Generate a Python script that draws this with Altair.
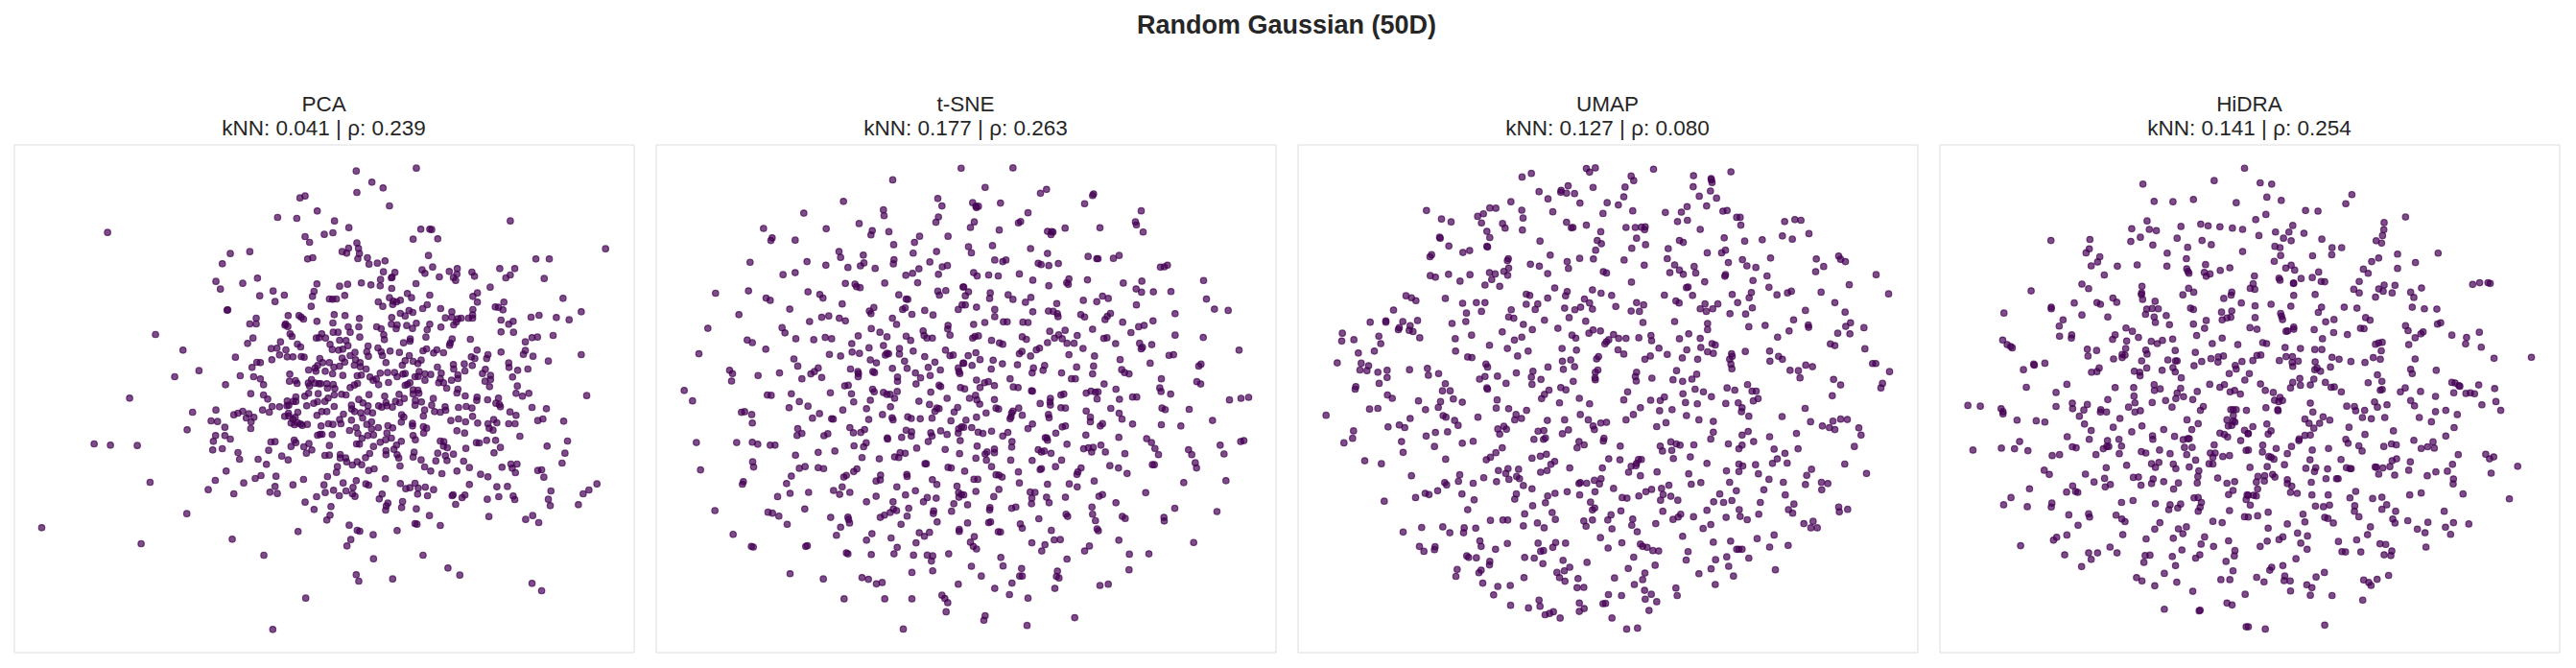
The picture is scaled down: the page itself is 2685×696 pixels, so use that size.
import altair as alt
import pandas as pd

suptitle = 'Random Gaussian (50D)'
methods = ['PCA', 't-SNE', 'UMAP', 'HiDRA']
knn = ['0.041', '0.177', '0.127', '0.141']
rho = ['0.239', '0.263', '0.080', '0.254']

# points, one list per part of a panel
pca_tl = [(927,181),(911,187),(965,228),(841,248),(901,251),(309,295),(985,300),(927,308),(941,326),(754,355),(693,361),(668,393),(935,378),(951,374),(648,448),(732,454),(778,438),(964,456),(662,472),(827,478),(955,479),(785,493),(862,491),(950,495),(833,511),(946,526),(683,538),(685,537),(874,555),(908,555),(915,560),(922,566),(964,573),(774,563),(754,581),(774,581),(866,581),(864,585),(873,589),(459,614),(880,612),(886,620),(979,614),(764,625),(962,625),(971,624),(747,642),(850,637),(903,644),(913,653),(545,663),(821,658),(839,657),(867,662),(847,678),(709,685),(871,684),(889,684),(915,683),(924,685),(973,689),(776,701),(787,702),(823,693),(981,702),(966,711),(761,717),(958,719),(595,727),(938,725),(961,729),(987,729),(519,746),(724,743),(766,746),(879,738),(787,753),(878,760),(897,758),(902,767),(947,755),(937,766),(958,766),(970,768),(978,768),(678,771),(797,771),(941,775)]
pca_bl = [(378,18),(757,4),(797,8),(810,21),(968,4),(938,3),(926,12),(898,14),(871,27),(898,28),(890,28),(985,18),(986,30),(966,29),(954,34),(824,44),(847,45),(870,42),(876,40),(932,42),(794,55),(648,55),(575,62),(815,62),(704,70),(717,65),(732,59),(751,67),(743,80),(767,78),(758,92),(875,65),(863,75),(876,74),(904,62),(979,59),(964,72),(896,78),(889,84),(633,89),(653,91),(883,96),(894,101),(904,95),(913,99),(918,103),(934,100),(676,109),(558,117),(757,113),(976,106),(647,135),(676,135),(693,146),(640,153),(966,134),(974,131),(983,137),(820,155),(833,154),(893,149),(898,157),(267,161),(318,165),(402,166),(939,160),(883,169),(923,170),(638,180),(668,176),(813,181),(948,180),(717,188),(931,190),(854,199),(987,196),(722,209),(780,209),(874,211),(806,225),(680,246),(789,260),(771,269),(836,262),(922,272),(646,275),(735,283),(442,281),(889,289),(833,294),(984,289),(624,304),(704,317),(817,312),(840,316),(987,313),(963,326),(927,343),(955,366),(557,379),(990,398),(103,423),(905,435),(699,459),(414,473),(798,509),(929,643),(826,741)]
pca_tr = [(112,103),(300,94),(161,138),(196,156),(114,170),(216,212),(44,259),(594,259),(89,280),(314,285),(342,285),(348,286),(39,296),(12,301),(290,316),(367,315),(114,328),(119,345),(88,344),(68,355),(82,360),(122,361),(117,377),(147,374),(338,367),(892,346),(674,378),(716,378),(202,384),(178,391),(152,394),(351,403),(318,412),(327,423),(403,417),(428,408),(427,425),(416,436),(423,445),(561,408),(608,408),(594,428),(580,437),(474,419),(482,432),(197,418),(233,420),(224,435),(222,437),(372,434),(188,442),(700,439),(128,453),(85,457),(60,463),(158,459),(187,462),(299,455),(531,466),(223,470),(272,486),(285,499),(342,491),(491,484),(477,495),(76,492),(28,503),(38,504),(50,503),(216,499),(759,501),(181,512),(195,526),(228,510),(238,512),(226,520),(250,507),(334,521),(320,533),(376,533),(491,513),(574,513),(547,528),(557,529),(571,537),(477,536),(816,543),(411,543),(250,548),(277,539),(289,545),(265,556),(43,552),(77,555),(122,564),(223,561),(391,562),(411,560),(430,565),(440,563),(463,563),(476,563),(476,553),(684,554),(659,560),(738,561),(778,568),(565,569),(39,578),(222,582),(240,584),(270,586),(300,579),(288,595),(342,582),(334,599),(377,591),(425,575),(417,584),(603,573),(589,582),(87,590),(120,590),(176,590),(190,596),(237,596),(93,607),(40,607),(55,607),(565,606),(604,607),(198,615),(123,622),(200,630),(330,622),(281,628),(280,635),(4,612),(16,625),(728,617),(679,622),(662,624),(469,629),(412,628),(406,641),(404,648),(260,640),(641,637),(30,645),(60,632),(80,633),(149,650),(86,649),(180,656),(145,668),(218,666),(37,661),(57,663),(70,660),(108,670),(150,682),(190,668),(194,680),(247,670),(278,680),(321,665),(332,659),(354,672),(364,662),(385,671),(490,663),(565,669),(641,664),(635,676),(665,682),(816,677),(93,680),(68,688),(205,702),(265,696),(290,698),(315,694),(472,684),(483,689),(520,689),(524,677),(589,703),(713,697),(110,693),(28,702),(7,702),(42,716),(60,713),(76,700),(106,710),(124,702),(125,715),(256,710),(305,705),(366,716),(416,708),(417,722),(450,706),(475,711),(452,728),(590,717),(617,726),(649,722),(143,722),(15,729),(38,737),(70,742),(115,743),(128,741),(187,735),(210,733),(232,733),(240,746),(258,738),(265,736),(309,730),(327,737),(345,739),(378,735),(516,723),(507,736),(532,742),(430,740),(155,747),(165,757),(175,753),(296,746),(306,745),(327,757),(375,752),(370,765),(385,765),(410,757),(430,752),(532,755),(515,760),(601,747),(182,771),(213,764),(272,770),(265,773),(280,765),(395,782),(116,767),(106,772),(93,780),(40,770),(20,768),(1,768),(22,782),(45,783),(529,777),(616,775),(430,785),(290,787),(305,788)]
pca_br = [(43,8),(66,6),(80,8),(152,7),(201,12),(246,6),(290,5),(308,3),(427,2),(453,11),(612,3),(632,12),(652,3),(833,10),(490,15),(489,25),(523,23),(557,18),(120,22),(14,28),(24,18),(353,19),(262,19),(235,28),(248,32),(297,25),(316,30),(296,40),(133,33),(182,42),(205,32),(192,46),(208,42),(225,46),(97,40),(43,44),(149,42),(348,40),(390,45),(432,47),(456,44),(474,49),(549,34),(560,38),(563,45),(662,47),(707,51),(98,52),(20,60),(4,60),(126,64),(147,60),(107,60),(163,64),(326,55),(357,60),(375,62),(392,56),(593,61),(612,72),(72,68),(60,85),(132,80),(254,70),(261,77),(322,74),(476,75),(408,88),(432,83),(454,92),(492,96),(253,93),(696,83),(680,88),(761,90),(542,85),(552,95),(97,87),(64,98),(160,92),(25,98),(39,100),(2,105),(145,100),(288,97),(288,105),(322,107),(524,98),(589,98),(609,98),(112,110),(181,110),(211,104),(226,111),(332,112),(528,112),(160,114),(91,119),(540,118),(427,120),(451,127),(117,128),(208,127),(323,127),(624,137),(5,131),(37,132),(148,135),(166,133),(130,144),(222,143),(204,148),(290,135),(297,148),(520,150),(548,150),(375,152),(386,154),(488,157),(497,158),(253,153),(187,156),(113,161),(122,162),(28,166),(166,169),(773,152),(709,168),(563,172),(455,175),(238,165),(230,178),(385,168),(397,173),(293,187),(205,182),(367,190),(416,193),(391,198),(543,189),(765,190),(14,197),(28,196),(62,194),(154,191),(141,204),(205,195),(240,195),(245,205),(290,202),(62,205),(79,205),(396,213),(361,214),(315,211),(448,215),(82,217),(115,217),(129,226),(100,227),(756,221),(596,224),(615,224),(249,230),(53,232),(326,233),(466,235),(568,234),(600,237),(50,250),(151,244),(168,239),(345,246),(427,246),(680,244),(692,242),(610,251),(380,254),(501,256),(524,264),(699,265),(22,263),(203,270),(112,276),(71,283),(250,285),(296,284),(142,286),(151,290),(11,289),(102,297),(280,298),(267,301),(306,299),(328,296),(354,304),(466,288),(552,295),(585,294),(865,286),(41,306),(15,313),(80,308),(100,317),(108,325),(59,323),(193,318),(304,318),(335,323),(184,333),(412,323),(415,320),(443,329),(452,321),(522,334),(558,326),(603,324),(608,335),(721,308),(840,305),(822,317),(713,334),(257,341),(211,346),(206,355),(204,368),(254,360),(300,364),(33,357),(423,350),(807,351),(719,354),(30,384),(20,399),(341,385),(527,388),(664,385),(642,397),(683,407),(90,415),(296,410),(302,412),(375,416),(115,431),(123,434),(240,432),(165,445),(95,460),(83,480),(166,520),(321,509),(399,549),(436,571),(112,570),(120,590),(226,583),(662,597),(692,620)]
tsne_l = [(967,78),(753,114),(894,171),(907,194),(599,180),(724,206),(726,224),(896,228),(475,216),(888,244),(648,248),(349,263),(545,264),(689,270),(685,283),(741,273),(926,287),(376,292),(372,300),(448,299),(837,287),(821,306),(756,313),(987,320),(585,334),(590,352),(661,345),(817,339),(890,334),(757,359),(755,372),(663,369),(652,378),(613,383),(698,386),(869,366),(307,367),(485,365),(544,376),(448,399),(410,405),(835,387),(815,401),(794,407),(908,381),(924,377),(896,404),(605,432),(635,434),(640,442),(651,445),(728,431),(831,430),(973,443),(302,455),(488,458),(199,462),(894,456),(919,454),(899,468),(772,467),(978,470),(987,458),(525,466),(535,477),(357,477),(370,484),(795,480),(800,481),(595,495),(431,511),(694,506),(680,517),(685,525),(784,512),(792,507),(853,515),(879,529),(813,527),(958,512),(970,498),(980,498),(272,528),(531,536),(553,532),(586,539),(605,547),(493,549),(752,539),(765,558),(926,561),(925,572),(407,568),(416,584),(175,570),(686,571),(713,582),(848,578),(851,592),(860,600),(877,600),(932,591),(645,593),(735,596),(795,594),(809,607),(298,606),(314,614),(450,602),(506,605),(542,598),(562,602),(625,617),(724,623),(679,630),(774,632),(356,634),(626,643),(649,647),(817,640),(735,647),(740,648),(730,652),(774,649),(918,637),(932,654),(942,652),(988,654),(147,648),(555,650),(590,655),(853,657),(444,664),(683,667),(702,676),(790,671),(885,674),(973,677),(456,686),(621,695),(752,693),(798,693),(864,690),(902,698),(958,692),(520,692),(243,699),(252,709),(399,707),(508,703),(497,710),(644,703),(646,709),(691,703),(696,706),(824,707),(960,703),(963,709),(332,715),(469,725),(531,721),(645,719),(768,720),(870,715),(840,722),(249,732),(768,733),(826,741),(603,747),(614,745),(898,745),(903,749),(690,757),(965,752),(977,756),(695,765),(101,761),(436,771),(558,768),(624,771),(724,767),(735,773),(745,773),(767,764),(872,766),(361,775),(373,776),(127,793),(461,795),(683,791),(631,796),(759,785),(923,785),(990,785),(835,794),(488,809),(429,814),(746,811),(868,804),(671,817),(597,821),(891,815),(898,817),(885,825),(956,813),(945,827),(280,828),(290,826),(312,835),(524,832),(502,846),(562,848),(567,849),(721,835),(751,845),(754,851),(800,842),(811,847),(839,848),(876,846),(678,850),(935,854),(980,851),(314,861),(456,878),(619,875),(630,891),(653,890),(665,881),(795,883),(812,888),(811,901),(872,891),(876,901),(903,885),(923,896),(959,879),(968,873),(958,892),(454,899),(469,893),(538,900),(550,894),(781,905),(736,907),(737,910),(139,921),(265,921),(314,920),(331,926),(370,929),(385,929),(670,922),(632,931),(662,934),(864,918),(964,915),(828,938),(917,942),(572,947),(520,951),(449,960),(776,952),(792,954),(759,965),(772,967),(962,955),(657,967),(711,971),(315,980),(318,996),(854,986),(858,986),(479,995),(461,1000),(520,998),(537,1001),(152,1005),(926,997),(936,999),(976,1009),(641,1002),(631,1010),(436,1024),(608,1022),(600,1027),(715,1021),(797,1019),(798,1025),(714,1036),(701,1039),(877,1035),(891,1050),(286,1041),(283,1049),(421,1047),(595,1057),(766,1057),(954,1055),(568,1068),(490,1074),(432,1077),(619,1074),(587,1080),(393,1087),(824,1069),(793,1082),(701,1086),(959,1075),(968,1081),(960,1089),(861,1090),(889,1092),(671,1103),(754,1103),(849,1103),(944,1109),(984,1111),(478,1125),(803,1123),(755,1125),(765,1130),(745,1136),(197,1130),(363,1135),(377,1138),(397,1147),(881,1131),(880,1139),(937,1132),(727,1144),(714,1151),(798,1147),(559,1151),(613,1150),(615,1157),(618,1168),(892,1165),(983,1168),(423,1172),(779,1172),(590,1181),(836,1198),(868,1197),(852,1209),(961,1188),(961,1194),(254,1203),(577,1206),(688,1201),(671,1221),(748,1214),(826,1229),(990,1227),(311,1240),(317,1242),(481,1240),(486,1238),(767,1243),(608,1260),(613,1263),(686,1265),(757,1263),(818,1267),(861,1267),(878,1269),(928,1263),(874,1285),(990,1302),(878,1315),(813,1320),(432,1324),(536,1340),(657,1336),(677,1341),(702,1355),(720,1351),(958,1356),(907,1390),(916,1400),(925,1413),(601,1401),(728,1401),(813,1401),(920,1441),(786,1494)]
tsne_r = [(154,77),(67,137),(259,143),(240,155),(406,157),(403,162),(378,187),(28,184),(38,195),(46,195),(40,199),(115,185),(555,209),(201,215),(33,243),(21,260),(171,246),(178,242),(537,243),(540,252),(561,274),(111,268),(262,272),(275,273),(273,282),(279,274),(317,262),(426,261),(15,319),(24,338),(90,316),(209,325),(262,340),(389,349),(416,356),(420,356),(486,346),(468,355),(97,360),(122,365),(132,360),(233,370),(242,374),(266,377),(296,371),(637,376),(627,381),(615,382),(31,399),(42,409),(78,406),(108,409),(174,403),(216,422),(329,418),(322,430),(327,435),(387,421),(499,431),(750,423),(557,425),(266,439),(539,449),(556,459),(593,458),(648,457),(0,443),(15,458),(5,470),(83,461),(81,478),(139,467),(154,481),(210,475),(193,490),(291,494),(374,484),(416,488),(434,471),(452,478),(759,480),(540,498),(5,498),(40,505),(97,512),(216,519),(265,517),(280,518),(293,525),(295,534),(784,511),(827,515),(366,528),(378,535),(459,524),(449,533),(442,543),(661,525),(97,534),(31,558),(66,552),(124,550),(136,550),(185,551),(201,552),(497,551),(592,547),(547,565),(564,561),(403,573),(269,579),(317,576),(523,583),(28,600),(35,595),(46,593),(183,596),(196,604),(297,590),(284,600),(308,602),(355,592),(661,591),(749,598),(438,601),(448,599),(87,607),(112,615),(122,619),(262,614),(323,616),(345,616),(475,617),(550,616),(588,620),(559,628),(555,633),(373,632),(861,637),(237,631),(227,636),(182,641),(174,648),(38,645),(14,654),(209,655),(329,651),(409,655),(642,653),(656,651),(489,666),(51,666),(92,668),(0,677),(26,684),(121,679),(168,682),(583,677),(253,684),(353,689),(406,686),(742,680),(735,686),(86,695),(218,692),(248,699),(214,707),(494,697),(503,706),(517,710),(306,707),(403,710),(40,729),(145,725),(337,725),(349,725),(618,725),(65,737),(77,734),(729,734),(741,741),(51,752),(96,746),(3,756),(155,750),(170,752),(439,741),(476,757),(613,753),(617,764),(212,762),(215,763),(37,776),(18,785),(41,790),(50,803),(96,789),(304,775),(313,772),(271,785),(270,796),(271,806),(239,801),(383,769),(398,763),(412,766),(420,765),(417,787),(487,788),(528,781),(541,781),(647,772),(831,790),(867,785),(891,782),(101,815),(109,818),(172,815),(154,824),(150,830),(304,814),(318,815),(460,816),(620,815),(630,820),(705,819),(70,830),(183,837),(383,824),(486,831),(145,848),(148,842),(40,843),(7,852),(265,835),(267,845),(396,843),(396,857),(495,849),(778,853),(215,864),(434,863),(427,870),(528,864),(618,866),(679,870),(308,873),(318,870),(201,878),(25,875),(0,874),(45,889),(60,893),(87,886),(138,890),(122,901),(288,892),(382,898),(485,905),(255,906),(260,907),(262,914),(572,909),(587,921),(151,918),(323,926),(429,929),(802,929),(866,918),(876,915),(42,932),(150,935),(375,940),(390,937),(405,936),(598,939),(703,943),(713,958),(233,943),(243,950),(252,947),(273,954),(400,950),(443,950),(504,955),(609,958),(814,956),(73,950),(67,956),(96,941),(96,952),(38,969),(71,975),(147,975),(214,976),(306,975),(724,983),(590,989),(596,989),(87,995),(287,995),(457,992),(484,999),(728,999),(243,1001),(239,1004),(367,999),(357,1011),(354,1019),(171,1011),(511,1016),(3,1009),(101,1020),(110,1021),(120,1027),(32,1034),(44,1034),(408,1039),(820,1038),(174,1045),(262,1049),(330,1048),(355,1057),(688,1044),(110,1065),(38,1071),(208,1073),(223,1074),(569,1075),(434,1081),(423,1086),(94,1087),(259,1089),(318,1089),(0,1082),(213,1092),(267,1106),(476,1106),(212,1109),(12,1112),(150,1123),(163,1119),(82,1121),(81,1128),(401,1119),(660,1123),(320,1141),(325,1148),(403,1141),(792,1133),(235,1155),(496,1148),(505,1154),(626,1151),(627,1162),(412,1161),(12,1168),(78,1167),(84,1165),(177,1171),(183,1184),(417,1186),(421,1192),(108,1195),(115,1196),(274,1191),(33,1210),(21,1227),(30,1240),(40,1248),(213,1229),(283,1220),(302,1219),(485,1221),(719,1228),(254,1235),(393,1239),(378,1254),(244,1254),(518,1264),(579,1263),(116,1274),(323,1279),(24,1301),(123,1300),(181,1308),(293,1316),(517,1312),(55,1331),(175,1331),(183,1331),(290,1332),(298,1337),(151,1353),(97,1369),(285,1369),(426,1360),(452,1356),(143,1388),(201,1399),(67,1453),(63,1467),(347,1459),(198,1483)]
umap_l = [(915,79),(943,77),(925,90),(743,94),(714,105),(936,137),(858,132),(767,150),(836,146),(835,152),(853,155),(878,156),(795,172),(679,181),(895,185),(980,184),(415,208),(613,200),(632,201),(713,207),(593,218),(575,226),(810,212),(967,217),(717,231),(462,234),(492,243),(587,246),(653,248),(661,262),(853,244),(868,261),(873,260),(915,253),(715,268),(604,272),(613,291),(960,273),(456,290),(458,293),(770,302),(949,300),(962,310),(485,317),(604,318),(606,320),(529,337),(550,331),(944,330),(431,344),(426,350),(802,345),(671,356),(668,362),(894,355),(937,357),(855,365),(740,373),(768,379),(672,385),(859,386),(657,395),(612,399),(630,403),(551,405),(484,404),(427,408),(443,413),(669,407),(794,402),(968,396),(977,401),(520,425),(619,420),(598,437),(644,441),(816,446),(934,452),(855,457),(961,462),(850,470),(727,465),(738,469),(794,477),(474,478),(351,470),(368,476),(382,485),(528,493),(571,491),(598,491),(727,496),(763,495),(909,480),(925,492),(897,505),(879,513),(847,508),(934,511),(755,512),(680,513),(312,514),(587,518),(540,523),(672,535),(688,539),(861,537),(784,545),(387,546),(341,549),(239,551),(288,547),(288,551),(538,549),(495,555),(718,558),(913,548),(364,562),(330,568),(327,574),(361,576),(373,580),(746,574),(826,570),(652,581),(923,585),(936,575),(959,578),(152,585),(266,594),(394,599),(556,591),(870,591),(882,600),(713,597),(150,609),(188,605),(272,617),(505,602),(690,606),(975,610),(973,618),(985,605),(612,622),(668,632),(839,632),(884,637),(733,640),(202,646),(252,640),(506,640),(700,655),(544,658),(557,660),(953,657),(947,664),(866,667),(840,671),(136,676),(211,677),(601,680),(606,689),(795,689),(878,688),(234,685),(207,698),(229,700),(292,699),(362,697),(418,693),(843,696),(951,698),(943,705),(263,705),(421,714),(453,709),(748,702),(696,707),(292,721),(581,726),(598,718),(637,717),(743,720),(773,727),(942,722),(943,728),(267,739),(474,740),(664,739),(745,742),(874,733),(194,749),(192,757),(604,753),(606,757),(465,762),(489,762),(835,752),(851,759),(798,760),(784,773),(775,786),(293,775),(308,785),(499,787),(893,785),(390,793),(459,795),(527,797),(636,790),(831,799),(925,802),(452,813),(633,815),(263,816),(237,818),(412,820),(672,817),(728,822),(467,838),(476,843),(695,835),(691,851),(712,847),(896,835),(101,837),(576,843),(364,847),(503,853),(514,868),(793,853),(847,851),(921,851),(960,861),(977,859),(330,867),(347,875),(295,873),(936,870),(940,881),(657,871),(665,880),(638,879),(187,885),(443,890),(481,888),(764,886),(782,884),(859,882),(644,895),(840,894),(414,901),(184,908),(751,911),(781,911),(787,907),(970,908),(968,916),(337,918),(561,917),(527,923),(157,922),(892,918),(908,928),(886,937),(440,933),(652,937),(342,951),(632,952),(615,966),(602,974),(790,957),(771,963),(745,969),(475,972),(983,971),(222,977),(274,986),(816,979),(804,988),(863,999),(965,999),(640,1007),(670,1001),(703,1003),(663,1016),(792,1007),(772,1012),(519,1020),(697,1025),(706,1032),(673,1034),(368,1023),(594,1029),(515,1040),(634,1041),(961,1032),(940,1037),(956,1048),(916,1046),(896,1044),(892,1047),(472,1044),(478,1051),(561,1046),(718,1053),(745,1063),(855,1072),(942,1072),(450,1069),(411,1077),(423,1081),(526,1079),(381,1090),(696,1079),(691,1095),(817,1077),(794,1085),(894,1082),(283,1101),(564,1097),(787,1106),(928,1104),(747,1115),(941,1122),(934,1128),(544,1127),(808,1136),(722,1140),(988,1143),(615,1160),(654,1159),(669,1159),(818,1157),(934,1159),(981,1160),(907,1162),(762,1168),(718,1177),(914,1178),(400,1182),(466,1180),(533,1183),(569,1184),(783,1183),(990,1187),(342,1196),(488,1198),(531,1198),(959,1213),(582,1223),(668,1231),(764,1230),(819,1228),(850,1230),(586,1240),(810,1243),(393,1240),(442,1241),(440,1250),(407,1255),(631,1249),(781,1253),(772,1255),(983,1245),(541,1269),(547,1274),(571,1275),(722,1274),(752,1276),(842,1283),(613,1286),(612,1297),(779,1293),(917,1289),(511,1311),(586,1313),(579,1321),(863,1304),(846,1315),(823,1320),(507,1332),(720,1336),(831,1336),(848,1347),(889,1339),(591,1353),(638,1363),(677,1360),(886,1367),(907,1366),(625,1389),(983,1388),(767,1405),(678,1421),(770,1424),(893,1414),(967,1416),(734,1429),(908,1431),(893,1440),(812,1441),(800,1446),(786,1450),(833,1460),(990,1460)]
umap_r = [(150,81),(392,89),(80,102),(88,116),(275,101),(330,110),(331,114),(333,122),(274,135),(61,136),(328,148),(57,166),(293,164),(347,170),(5,184),(40,191),(316,194),(255,196),(85,209),(187,214),(237,213),(367,210),(380,208),(410,229),(421,229),(225,242),(256,238),(560,242),(592,236),(611,238),(423,253),(64,260),(93,260),(112,259),(124,258),(122,267),(296,266),(636,279),(553,286),(584,296),(97,293),(371,292),(435,302),(490,298),(231,300),(243,306),(125,313),(82,324),(196,325),(318,338),(363,338),(375,330),(193,356),(58,360),(428,359),(516,354),(659,357),(729,348),(735,358),(750,365),(121,376),(216,375),(384,368),(277,380),(442,378),(470,383),(682,380),(231,391),(201,399),(243,404),(282,400),(657,396),(375,405),(373,410),(505,409),(846,405),(3,400),(81,428),(310,427),(461,423),(762,436),(258,443),(253,445),(511,444),(184,468),(272,469),(396,466),(456,460),(581,456),(569,461),(536,467),(674,459),(885,464),(19,469),(449,476),(220,486),(230,492),(97,491),(119,498),(32,503),(413,491),(311,495),(351,495),(296,510),(335,510),(315,518),(459,507),(717,491),(80,517),(106,518),(389,525),(438,526),(625,515),(749,520),(117,552),(216,549),(319,555),(588,544),(499,561),(448,565),(634,560),(635,567),(766,553),(751,564),(808,568),(574,578),(319,574),(726,585),(764,587),(260,587),(25,589),(142,592),(538,597),(41,601),(64,601),(104,599),(231,602),(296,601),(10,605),(3,611),(144,608),(333,617),(343,621),(703,618),(717,623),(167,631),(298,629),(811,633),(39,636),(57,649),(254,636),(319,642),(337,647),(437,641),(513,640),(193,650),(394,648),(396,656),(140,655),(123,665),(240,661),(288,665),(388,665),(541,656),(553,665),(514,671),(392,680),(626,683),(647,688),(835,678),(845,678),(395,694),(577,699),(603,700),(222,700),(888,703),(97,705),(285,711),(93,718),(145,723),(270,726),(211,728),(241,733),(96,732),(608,722),(713,727),(735,744),(866,739),(861,753),(444,743),(380,753),(404,760),(280,757),(306,765),(458,763),(471,763),(69,765),(242,771),(331,780),(709,777),(184,781),(477,786),(462,793),(57,790),(141,791),(171,792),(250,798),(287,802),(376,801),(415,799),(109,814),(427,814),(208,820),(169,823),(425,826),(624,816),(87,835),(253,838),(448,840),(552,841),(64,851),(292,851),(337,856),(735,849),(756,850),(711,855),(641,857),(189,860),(3,859),(160,872),(678,870),(700,875),(717,881),(792,876),(337,889),(446,887),(427,898),(597,893),(799,898),(513,903),(329,910),(463,918),(204,919),(221,925),(233,929),(276,928),(384,925),(427,929),(417,940),(171,932),(46,932),(527,941),(602,940),(778,933),(178,947),(207,945),(561,954),(10,971),(45,974),(212,970),(265,965),(537,971),(103,973),(112,973),(97,985),(80,994),(95,992),(317,985),(417,987),(429,993),(469,989),(522,985),(568,984),(748,987),(72,1012),(161,1011),(378,1008),(417,1010),(644,1003),(260,1017),(478,1017),(629,1022),(816,1016),(109,1023),(511,1034),(298,1044),(268,1049),(388,1043),(556,1043),(625,1050),(675,1043),(695,1047),(198,1052),(25,1062),(175,1062),(144,1065),(126,1072),(409,1069),(495,1066),(676,1066),(357,1079),(180,1081),(104,1085),(204,1086),(562,1082),(52,1090),(67,1092),(172,1098),(226,1098),(338,1103),(369,1105),(395,1099),(484,1105),(589,1110),(729,1119),(757,1126),(731,1134),(48,1131),(179,1132),(317,1129),(418,1127),(572,1127),(585,1138),(479,1141),(17,1143),(235,1141),(227,1150),(211,1157),(275,1149),(85,1156),(377,1151),(421,1148),(443,1158),(7,1159),(649,1163),(157,1170),(82,1175),(329,1173),(620,1170),(305,1185),(642,1183),(662,1183),(20,1186),(99,1195),(241,1209),(527,1205),(474,1216),(51,1229),(337,1227),(391,1224),(109,1233),(116,1240),(130,1243),(8,1245),(148,1253),(166,1254),(571,1237),(513,1242),(410,1249),(417,1249),(427,1249),(258,1256),(88,1273),(379,1272),(448,1276),(344,1281),(252,1282),(155,1298),(385,1301),(71,1308),(330,1309),(531,1312),(123,1322),(292,1324),(400,1331),(28,1337),(116,1342),(343,1357),(90,1357),(220,1368),(122,1375),(143,1387),(9,1388),(50,1391),(224,1391),(124,1402),(160,1410),(0,1415),(136,1437),(20,1460),(100,1491),(66,1494)]
hidra_l = [(963,78),(868,116),(645,127),(680,180),(739,181),(803,174),(937,184),(658,240),(610,264),(665,266),(687,270),(764,257),(826,250),(849,255),(886,258),(925,262),(957,266),(637,290),(752,293),(607,303),(830,300),(357,300),(479,297),(676,314),(859,313),(785,321),(477,326),(467,338),(721,339),(957,334),(510,350),(781,356),(503,366),(483,378),(565,379),(627,375),(720,379),(841,374),(917,384),(782,387),(786,395),(789,401),(887,392),(837,398),(855,403),(843,410),(524,406),(988,410),(454,434),(987,433),(475,448),(981,445),(642,441),(788,447),(641,461),(804,459),(295,455),(770,467),(923,459),(640,466),(921,468),(898,478),(644,481),(551,477),(563,490),(683,487),(430,492),(501,491),(512,496),(953,492),(358,505),(358,510),(657,511),(674,509),(693,510),(794,508),(803,512),(988,500),(923,517),(891,520),(210,523),(653,527),(454,529),(535,535),(680,535),(718,531),(893,544),(908,538),(920,536),(988,536),(395,544),(843,546),(684,552),(803,557),(383,563),(728,559),(592,569),(978,568),(612,579),(838,570),(384,594),(422,590),(421,600),(558,590),(631,598),(813,592),(893,600),(550,604),(738,603),(206,606),(671,610),(690,617),(706,607),(594,609),(862,617),(942,620),(220,620),(231,626),(236,630),(471,634),(500,638),(591,632),(654,637),(658,649),(746,638),(809,644),(473,655),(580,650),(589,652),(580,660),(881,658),(897,655),(553,664),(641,670),(723,667),(747,670),(752,670),(858,663),(829,672),(955,672),(987,669),(880,674),(303,680),(305,683),(338,677),(805,685),(934,684),(271,697),(508,692),(657,692),(739,691),(937,695),(501,703),(484,705),(618,702),(705,699),(635,705),(636,716),(746,704),(915,709),(976,709),(765,722),(964,729),(280,751),(407,742),(558,752),(616,752),(680,743),(854,742),(900,743),(886,751),(681,761),(699,756),(763,754),(373,767),(815,764),(918,765),(932,761),(950,772),(752,769),(617,778),(772,780),(748,786),(535,789),(801,789),(716,792),(424,800),(620,799),(674,798),(97,807),(136,809),(373,810),(425,817),(471,804),(460,821),(600,812),(736,812),(834,810),(201,817),(207,826),(207,833),(513,820),(512,827),(531,827),(620,827),(637,823),(825,822),(920,820),(928,820),(937,820),(969,822),(446,840),(928,838),(573,847),(251,852),(311,854),(338,858),(783,851),(908,851),(928,855),(933,858),(462,864),(818,863),(923,868),(912,870),(552,874),(642,870),(985,872),(483,884),(610,888),(710,881),(798,881),(963,883),(974,894),(886,892),(900,896),(910,904),(408,903),(675,900),(744,902),(477,911),(534,915),(570,911),(676,911),(771,912),(785,909),(790,909),(951,915),(259,918),(424,934),(436,937),(532,933),(538,933),(578,932),(521,940),(868,928),(775,936),(799,936),(202,938),(113,944),(243,940),(285,946),(697,944),(968,945),(640,949),(654,953),(498,958),(571,955),(730,955),(361,961),(384,958),(782,958),(856,953),(871,953),(864,966),(895,964),(916,961),(810,975),(672,986),(695,982),(740,987),(594,991),(684,997),(748,1001),(852,986),(864,987),(530,998),(790,996),(979,997),(336,1006),(352,1019),(465,1018),(820,1008),(817,1025),(615,1028),(631,1027),(525,1031),(677,1033),(879,1030),(492,1042),(672,1047),(710,1041),(815,1045),(908,1046),(932,1041),(527,1057),(543,1050),(639,1052),(756,1045),(425,1054),(290,1063),(741,1064),(406,1073),(434,1071),(441,1074),(927,1068),(913,1081),(971,1082),(990,1082),(232,1090),(805,1091),(818,1090),(968,1096),(578,1105),(614,1099),(828,1105),(684,1109),(209,1112),(360,1107),(358,1119),(283,1118),(730,1112),(763,1110),(754,1122),(726,1127),(980,1112),(824,1120),(818,1132),(916,1130),(413,1143),(475,1140),(478,1150),(561,1144),(963,1149),(975,1149),(579,1156),(589,1164),(864,1163),(893,1167),(698,1167),(442,1175),(781,1180),(756,1186),(682,1187),(770,1201),(582,1204),(407,1205),(375,1212),(365,1221),(838,1211),(655,1217),(740,1215),(913,1223),(827,1233),(262,1238),(866,1240),(542,1242),(933,1253),(767,1251),(400,1266),(475,1260),(503,1260),(564,1260),(652,1268),(667,1267),(737,1271),(823,1266),(810,1276),(931,1269),(483,1280),(648,1289),(905,1286),(453,1302),(747,1299),(927,1315),(712,1323),(625,1336),(642,1346),(889,1342),(917,1342),(751,1350),(682,1361),(801,1378),(965,1387),(908,1414),(924,1420),(712,1433),(821,1438),(824,1436),(968,1487)]
hidra_r = [(37,123),(73,127),(324,159),(58,167),(103,177),(305,187),(179,208),(218,210),(55,220),(23,236),(492,228),(425,245),(139,254),(424,267),(85,274),(127,274),(174,278),(33,285),(420,285),(110,293),(134,301),(230,296),(400,301),(417,308),(83,318),(99,322),(262,322),(292,322),(101,346),(201,347),(261,344),(467,342),(594,339),(81,364),(408,354),(386,365),(523,368),(134,376),(117,385),(145,391),(220,397),(360,388),(375,401),(467,386),(19,409),(165,417),(200,414),(96,416),(99,422),(347,426),(228,426),(239,427),(142,431),(15,433),(6,447),(20,450),(141,432),(425,437),(459,438),(702,435),(724,430),(750,430),(757,432),(330,450),(408,449),(422,456),(542,446),(347,461),(450,461),(508,459),(142,469),(209,466),(398,474),(518,475),(71,496),(21,501),(133,502),(229,505),(300,505),(340,508),(513,505),(551,510),(590,511),(219,521),(101,524),(104,533),(21,537),(107,543),(367,537),(381,545),(268,543),(242,550),(602,553),(592,557),(492,562),(5,568),(27,573),(142,566),(142,573),(118,579),(123,578),(206,574),(351,570),(362,571),(500,577),(267,583),(547,581),(540,587),(310,589),(637,591),(723,582),(683,598),(232,602),(522,599),(45,614),(57,617),(419,613),(408,615),(398,619),(502,620),(680,618),(115,629),(163,632),(208,635),(230,635),(729,628),(416,639),(27,653),(39,652),(118,657),(138,657),(262,659),(284,665),(391,660),(413,665),(97,669),(14,669),(156,671),(137,675),(209,673),(321,672),(365,675),(522,664),(769,662),(886,659),(139,687),(257,689),(208,697),(215,692),(226,702),(588,699),(508,696),(513,709),(3,709),(404,713),(161,724),(205,726),(139,736),(375,737),(418,733),(241,736),(38,741),(163,745),(194,744),(132,753),(259,751),(269,750),(637,736),(647,738),(659,746),(662,748),(721,744),(491,753),(413,760),(419,758),(771,755),(53,761),(78,767),(291,765),(476,765),(539,764),(643,768),(681,770),(695,768),(708,771),(586,779),(99,782),(82,791),(95,795),(107,792),(775,795),(395,796),(508,792),(194,800),(434,805),(731,805),(308,809),(332,810),(55,814),(404,812),(520,808),(92,820),(93,823),(336,823),(364,822),(202,827),(586,826),(618,822),(790,822),(654,835),(234,842),(357,844),(427,844),(385,848),(535,844),(177,849),(255,852),(190,862),(223,862),(573,857),(58,864),(14,872),(205,877),(315,874),(644,875),(71,885),(454,885),(62,895),(0,893),(177,899),(194,898),(365,896),(618,901),(159,910),(158,915),(305,911),(518,914),(312,923),(448,925),(463,928),(578,919),(45,929),(135,933),(424,933),(346,931),(87,939),(251,939),(541,939),(561,934),(582,938),(200,944),(356,947),(44,950),(0,944),(122,955),(657,958),(743,957),(768,965),(64,964),(71,966),(80,972),(193,974),(755,971),(290,973),(464,971),(450,977),(507,980),(113,989),(639,988),(843,994),(59,995),(5,997),(180,1000),(211,998),(207,1010),(248,1002),(307,998),(318,1001),(322,1001),(397,996),(401,997),(421,999),(443,995),(502,1006),(587,1011),(623,1009),(760,1015),(408,1018),(458,1021),(560,1023),(76,1019),(83,1027),(30,1025),(51,1023),(122,1035),(243,1032),(276,1032),(281,1032),(642,1033),(25,1042),(50,1039),(122,1047),(197,1043),(641,1048),(136,1055),(29,1064),(336,1071),(132,1074),(153,1077),(199,1082),(250,1082),(16,1083),(25,1085),(0,1083),(505,1082),(541,1076),(672,1079),(318,1091),(389,1093),(418,1089),(817,1094),(210,1116),(235,1118),(254,1113),(333,1115),(433,1112),(6,1113),(418,1126),(332,1132),(461,1132),(613,1132),(62,1135),(171,1141),(29,1146),(0,1150),(346,1149),(239,1151),(249,1154),(452,1156),(459,1168),(266,1168),(177,1165),(122,1171),(499,1161),(562,1166),(642,1167),(690,1171),(617,1181),(382,1180),(62,1184),(529,1187),(553,1198),(633,1203),(154,1199),(373,1204),(185,1208),(108,1211),(96,1219),(59,1224),(282,1225),(339,1220),(412,1232),(430,1234),(164,1230),(37,1240),(184,1249),(556,1242),(293,1256),(304,1257),(352,1257),(449,1254),(425,1266),(446,1268),(149,1278),(108,1299),(73,1304),(67,1313),(238,1320),(26,1335),(114,1331),(212,1334),(439,1329),(112,1345),(131,1346),(49,1349),(361,1343),(403,1341),(183,1358),(377,1351),(384,1360),(199,1367),(132,1377),(194,1390),(262,1391),(358,1405),(239,1482),(53,1494),(0,1487)]

SEAM = 975  # right-hand list starts this far along


def join(left, right, top=0):
    rows = [(x, y + top) for x, y in left if x < SEAM]
    rows += [(x + SEAM, y + top) for x, y in right]
    return rows


pca_top = [p for p in join(pca_tl, pca_tr) if p[1] < 795]
pca_points = pca_top + join(pca_bl, pca_br, top=795)

panels = [
    (pca_points, (16, 1955), (20, 1607)),
    (join(tsne_l, tsne_r), (12, 1950), (5, 1565)),
    (join(umap_l, umap_r), (12, 1950), (5, 1565)),
    (join(hidra_l, hidra_r), (8, 1948), (5, 1565)),
]

charts = []
for i, (points, xdom, ydom) in enumerate(panels):
    df = pd.DataFrame(points, columns=['x', 'y'])
    title = alt.Title([methods[i], f'kNN: {knn[i]} | ρ: {rho[i]}'],
                      fontSize=22.5, fontWeight='normal', color='#262626',
                      font='Liberation Sans', lineHeight=25.5, offset=5)
    chart = (alt.Chart(df, title=title, width=646, height=529)
             .mark_circle(size=42, color='#440154', fillOpacity=0.7,
                          stroke='#440154', strokeOpacity=0.7, strokeWidth=1.2)
             .encode(x=alt.X('x:Q', axis=None, scale=alt.Scale(domain=xdom, nice=False, zero=False)),
                     y=alt.Y('y:Q', axis=None, scale=alt.Scale(domain=ydom[::-1], nice=False, zero=False))))
    charts.append(chart)

chart = (alt.hconcat(*charts, spacing=21,
                     title=alt.Title(suptitle, fontSize=27, fontWeight='bold',
                                     color='#262626', font='Liberation Sans',
                                     anchor='middle', offset=56))
         .properties(padding={'left': 5.5, 'top': 4.5, 'right': 0, 'bottom': 0})
         .configure_view(stroke='#c4c4c4', strokeWidth=3)
         .configure(background='white'))

chart.save('out.html', embed_options={'renderer': 'svg', 'actions': False})
